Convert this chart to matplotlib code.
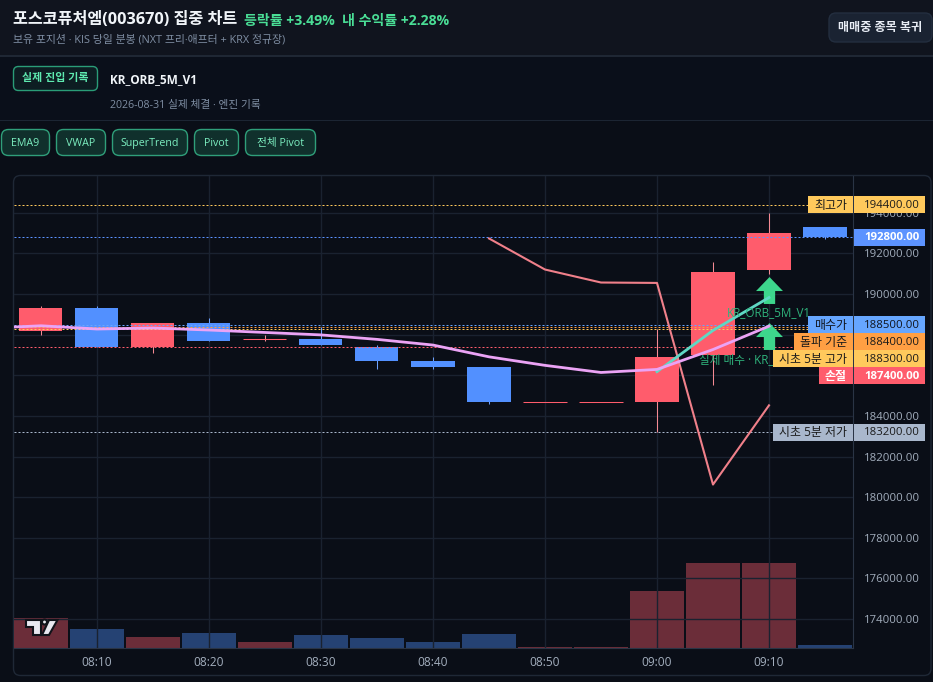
import matplotlib
matplotlib.use('Agg')
import matplotlib.pyplot as plt
from matplotlib.patches import FancyBboxPatch, Rectangle, Polygon, Circle
from matplotlib.path import Path

plt.rcParams['font.family'] = ['Open Sans', 'Noto Sans CJK KR', 'DejaVu Sans']

W, H = 933, 682

# candles, one per 5 minutes from 08:05
opens = [188200, 189300, 187400, 188600, 187800, 187800, 187400, 186700, 186400, 184700, 184700, 184700, 187000, 191200, 193300]
highs = [189400, 189400, 188600, 188800, 188000, 188400, 187500, 186900, 186400, 184700, 184700, 188300, 191600, 194000, 193300]
lows = [188000, 187400, 187100, 187700, 187700, 187500, 186300, 186300, 184600, 184700, 184700, 183200, 185500, 191000, 192700]
closes = [189300, 187400, 188600, 187700, 187800, 187500, 186700, 186400, 184700, 184700, 184700, 186900, 191100, 193000, 192800]
volumes = [3030, 1930, 1130, 1530, 630, 1330, 1030, 630, 1430, 130, 130, 5730, 8530, 8530, 330]

vwap_idx = [-1, 0, 1, 2, 3, 4, 5, 6, 7, 8, 9, 10, 11, 12, 13]
vwap = [188310, 188440, 188280, 188330, 188230, 188110, 187990, 187770, 187490, 186910, 186490, 186140, 186290, 187270, 188420]
ema_idx = [11, 12, 13]
ema = [186180, 188210, 189830]
trend_idx = [8, 9, 10, 11, 12, 13]
trend = [192740, 191210, 190570, 190550, 180620, 184520]

buy_idx = [13, 13]
buy_prices = [190200, 187950]
buy_texts = ['KR_ORB_5M_V1', '실제 매수 · KR_ORB_5M_V1']
buy_text_prices = [189100, 186800]

level_prices = [194400, 192800, 188500, 188400, 188300, 187400, 183200]
level_names = ['최고가', '', '매수가', '돌파 기준', '시초 5분 고가', '손절', '시초 5분 저가']
level_colors = ['#ffc95c', '#5c93ff', '#66a6ff', '#ff9f43', '#ffc95c', '#ff5c6c', '#a9b7cc']
level_text = ['#1a1a1a', '#ffffff', '#10141c', '#1a1a1a', '#1a1a1a', '#ffffff', '#1a1a1a']
level_left = [808, None, 808, 794, 773, 819, 773]

y_ticks = [174000, 176000, 178000, 180000, 182000, 184000, 186000, 188000, 190000, 192000, 194000]
x_tick_idx = [1, 3, 5, 7, 9, 11, 13]
x_tick_labels = ['08:10', '08:20', '08:30', '08:40', '08:50', '09:00', '09:10']

buttons = ['EMA9', 'VWAP', 'SuperTrend', 'Pivot', '전체 Pivot']
button_x = [(1, 50), (56, 106), (112, 188), (194, 239), (245, 316)]


def pixelAxes(zorder):
  a = fig.add_axes([0, 0, 1, 1], zorder=zorder)
  a.set_xlim(0, W)
  a.set_ylim(H, 0)
  a.axis('off')
  return a


def roundBox(a, x0, y0, x1, y1, face, edge, r=6, lw=1.0):
  a.add_patch(FancyBboxPatch((x0 + r, y0 + r), x1 - x0 - 2 * r, y1 - y0 - 2 * r,
                             boxstyle='round,pad=%d,rounding_size=%d' % (r, r),
                             fc=face, ec=edge, lw=lw))


fig = plt.figure(figsize=(W / 100, H / 100), dpi=100, facecolor='#0a0e17')

# page chrome
bg = pixelAxes(0)
bg.add_patch(Rectangle((0, 0), W, 55, fc='#10141e', ec='none'))
bg.add_patch(Rectangle((0, 55), W, 2, fc='#1f2734', ec='none'))
bg.add_patch(Rectangle((0, 57), W, 63, fc='#0a0f1a', ec='none'))
bg.add_patch(Rectangle((0, 120), W, 1, fc='#1c2533', ec='none'))
bg.text(13, 19.5, '포스코퓨처엠(003670) 집중 차트', color='#f1f5f9', fontsize=11.7, fontweight='bold', va='center')
bg.text(244, 20.5, '등락률 +3.49%  내 수익률 +2.28%', color='#4ade96', fontsize=10.1, fontweight='bold', va='center')
bg.text(13, 39.5, '보유 포지션 · KIS 당일 분봉 (NXT 프리·애프터 + KRX 정규장)', color='#7f8ea3', fontsize=7.85, va='center')
roundBox(bg, 829, 13, 932, 42, '#1a2332', '#232e3f', r=7)
bg.text(880, 28, '매매중 종목 복귀', color='#e8edf5', fontsize=8.7, fontweight='bold', ha='center', va='center')
roundBox(bg, 13.5, 66.5, 97.5, 90.5, '#0d1d22', '#2a9d78', r=5)
bg.text(55.5, 79, '실제 진입 기록', color='#5eeab0', fontsize=7.9, fontweight='bold', ha='center', va='center')
bg.text(110, 79.5, 'KR_ORB_5M_V1', color='#f1f5f9', fontsize=8.5, fontweight='bold', va='center')
bg.text(110, 105.5, '2026-08-31 실제 체결 · 엔진 기록', color='#7f8ea3', fontsize=7.7, va='center')
for label, (x0, x1) in zip(buttons, button_x):
  roundBox(bg, x0 + 0.5, 129.5, x1 - 0.5, 155.5, '#10302c', '#2f9f7a', r=7)
  bg.text((x0 + x1) / 2, 143.5, label, color='#7ceec0', fontsize=7.7, ha='center', va='center')
roundBox(bg, 13.5, 175.5, 931, 675.5, '#0a0e17', '#1f2836', r=7)

# chart panes share the pixel box 14..853 x 176..648
rect = [14 / W, 1 - 648 / H, (853 - 14) / W, (648 - 176) / H]
xlim = (-0.482, 14.5)

volAx = fig.add_axes(rect, zorder=1, facecolor='#0a0e17')
volAx.set_xlim(*xlim)
volAx.set_ylim(0, 47200)
volAx.axis('off')
for i, v in enumerate(volumes):
  color = '#6b2d39' if closes[i] >= opens[i] else '#254273'
  volAx.bar(i, v, width=0.98, color=color, linewidth=0)

ax = fig.add_axes(rect, zorder=2)
ax.patch.set_alpha(0)
ax.set_axisbelow(True)
ax.grid(True, color='#1a2230', linewidth=1)
ax.set_yticks(y_ticks)
ax.set_yticklabels(['%.2f' % t for t in y_ticks])
ax.yaxis.tick_right()
ax.set_xticks(x_tick_idx)
ax.set_xticklabels(x_tick_labels)
ax.set_xlim(*xlim)
ax.set_ylim(172570, 195816)
ax.tick_params(axis='both', length=0, labelcolor='#a3aebd', labelsize=8.2)
ax.tick_params(axis='y', pad=8)
ax.tick_params(axis='x', pad=6, labelsize=8.6)
for name, spine in ax.spines.items():
  spine.set_visible(name in ('bottom', 'right'))
  spine.set_color('#2a3445')

for i in range(len(opens)):
  up = closes[i] >= opens[i]
  body = '#ff5c6c' if up else '#5290ff'
  wick = '#f58a93' if up else '#6ea2ff'
  ax.vlines(i, lows[i], highs[i], color=wick, linewidth=0.75, zorder=3, snap=True)
  top, bottom = max(opens[i], closes[i]), min(opens[i], closes[i])
  if top == bottom:
    ax.hlines(top, i - 0.384, i + 0.384, color=body, linewidth=0.75, zorder=3, snap=True)
  else:
    ax.bar(i, top - bottom, bottom=bottom, width=0.768, color=body, linewidth=0, zorder=3)

for price, color in zip(level_prices, level_colors):
  ax.axhline(price, color=color, linewidth=0.72, linestyle=(0, (2, 2)), zorder=4, snap=True)

ax.plot(trend_idx, trend, color='#f0808a', linewidth=1.5, zorder=5)
ax.plot(ema_idx, ema, color='#5fd8c4', linewidth=2.0, zorder=6)
ax.plot(vwap_idx, vwap, color='#eba3f5', linewidth=2.0, zorder=7)

arrow = Path([(-1, -0.04), (-0.42, -0.04), (-0.42, -1), (0.42, -1), (0.42, -0.04), (1, -0.04), (0, 1), (-1, -0.04)], closed=True)
ax.plot(buy_idx, buy_prices, linestyle='none', marker=arrow, markersize=19.4, color='#3dd68c', markeredgewidth=0, zorder=5.5)
for i, price, label in zip(buy_idx, buy_text_prices, buy_texts):
  ax.text(i, price, label, color='#2fb37c', fontsize=8.4, ha='center', va='center', zorder=9)

# tags over the chart, pushed down when they would overlap
top = pixelAxes(3)
fig.canvas.draw()
prevBottom = -100
tagH = 17
for price, name, color, textColor, left in zip(level_prices, level_names, level_colors, level_text, level_left):
  y = H - ax.transData.transform((0, price))[1]
  y0 = max(y - tagH / 2, prevBottom)
  prevBottom = y0 + tagH
  top.add_patch(Rectangle((854, y0), 71, tagH, fc=color, ec='none'))
  top.text(891.5, y0 + tagH / 2 + 0.5, '%.2f' % price, color=textColor, fontsize=8.2, ha='center', va='center',
           fontweight='bold' if textColor == '#ffffff' else 'normal')
  if name:
    top.add_patch(Rectangle((left, y0), 853 - left, tagH, fc=color, ec='none'))
    top.text(847, y0 + tagH / 2 + 0.5, name, color=textColor, fontsize=8.6, ha='right', va='center',
             fontweight='bold' if textColor == '#ffffff' else 'normal')

# watermark logo
for patch in [Polygon([(26, 620), (41, 620), (41, 635), (33, 635), (33, 627), (26, 627)]),
              Circle((44.5, 622), 2.5),
              Polygon([(49, 620), (57.5, 620), (49, 635), (42, 635)])]:
  patch.set(fc='#e8e8f0', ec='#11131a', lw=1.5)
  top.add_patch(patch)

fig.savefig('out.png', dpi=100, facecolor=fig.get_facecolor())
